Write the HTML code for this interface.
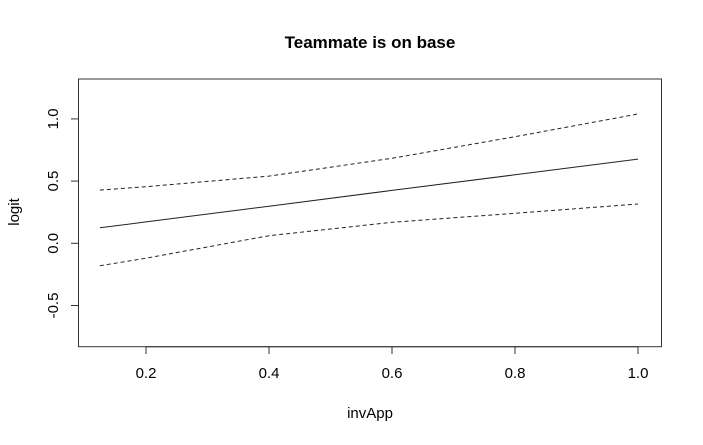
<!DOCTYPE html>
<html><head><meta charset="utf-8"><style>
body{margin:0;background:#fff}
svg{display:block;font-family:"Liberation Sans",Arial,sans-serif}
</style></head><body>
<svg id="chart" width="703" height="445">
<text x="370" y="48" text-anchor="middle" font-size="17" font-weight="bold">Teammate is on base</text>
<text x="370" y="418" text-anchor="middle" font-size="15">invApp</text>
<text transform="translate(19,212) rotate(-90)" text-anchor="middle" font-size="15">logit</text>
<rect x="78.5" y="79" width="583" height="267.7" fill="none" stroke="#333"/>
<g id="xax"></g>
<g id="yax"></g>
<g id="lines"></g>
</svg>
<script>
const xVals=[0.125,0.2,0.4,0.6,0.8,1.0];
const fitVals=[0.125,0.172,0.298,0.425,0.551,0.677];
const upperVals=[0.428,0.455,0.54,0.683,0.857,1.039];
const lowerVals=[-0.18,-0.12,0.061,0.169,0.241,0.316];
const xTicks=[0.2,0.4,0.6,0.8,1.0];
const yTicks=[-0.5,0.0,0.5,1.0];
const NS="http://www.w3.org/2000/svg";
function sx(v){return 146+(v-0.2)*615;}
function sy(v){return 243.3-v*124.4;}
function mk(t,a,p){const e=document.createElementNS(NS,t);for(const k in a)e.setAttribute(k,a[k]);p.appendChild(e);return e;}
const xax=document.getElementById('xax'),yax=document.getElementById('yax'),lg=document.getElementById('lines');
mk('line',{x1:sx(xTicks[0]),x2:sx(xTicks[xTicks.length-1]),y1:346.7,y2:346.7,stroke:'#333'},xax);
xTicks.forEach(t=>{
 const l=mk('line',{x1:sx(t),x2:sx(t),y1:346.7,y2:354,stroke:'#333'},xax);
 
 
 const tx=mk('text',{x:sx(t),y:378,'text-anchor':'middle','font-size':15},xax);
 tx.textContent=t.toFixed(1);
 
 
});
mk('line',{x1:78.5,x2:78.5,y1:sy(yTicks[0]),y2:sy(yTicks[yTicks.length-1]),stroke:'#333'},yax);
yTicks.forEach(t=>{
 const l=mk('line',{x1:71,x2:78.5,y1:sy(t),y2:sy(t),stroke:'#333'},yax);
 
 
 const tx=mk('text',{transform:`translate(58,${sy(t)}) rotate(-90)`,'text-anchor':'middle','font-size':15},yax);
 tx.textContent=t.toFixed(1);
 
 
});
function path(vals,dash,name){
 const d=vals.map((v,i)=>(i?'L':'M')+sx(xVals[i]).toFixed(1)+','+sy(v).toFixed(1)).join(' ');
 const p=mk('path',{d:d,fill:'none',stroke:'#222','stroke-width':1},lg);
 if(dash)p.setAttribute('stroke-dasharray','4,3');
 
 
}
path(fitVals,false,'fit-line');
path(upperVals,true,'upper-ci-line');
path(lowerVals,true,'lower-ci-line');
</script>
</body></html>
